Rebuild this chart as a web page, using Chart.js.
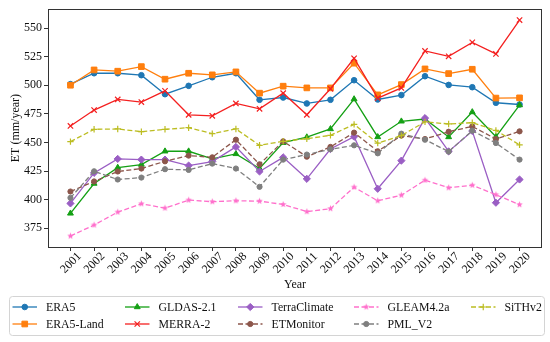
<!DOCTYPE html>
<html>
<head>
<meta charset="utf-8">
<script src="https://cdn.jsdelivr.net/npm/chart.js@4.4.1/dist/chart.umd.min.js"></script>
<style>
  html, body { margin: 0; padding: 0; background: #fff; }
  canvas { display: block; }
</style>
</head>
<body>
<canvas id="chart" width="550" height="342"></canvas>
<script>
// Datos (ET anual, mm/año)
const years = [2001, 2002, 2003, 2004, 2005, 2006, 2007, 2008, 2009, 2010,
               2011, 2012, 2013, 2014, 2015, 2016, 2017, 2018, 2019, 2020];

const era5         = [501, 510.5, 510.5, 508.8, 492.2, 499.5, 507, 510.5, 487.3, 489.3,
                      484.1, 487.3, 504.4, 487.6, 491.4, 507.9, 500.3, 498.3, 484.7, 483.2];
const era5Land     = [500, 513.4, 512.3, 516.3, 505.3, 510.5, 509.1, 511.7, 493.1, 499.2,
                      497.7, 497.7, 519.3, 491.6, 500.6, 514.3, 510.2, 514, 488.8, 489];
const gldas        = [388, 414.1, 428, 430.7, 442.3, 442.3, 435.6, 440, 427.2, 449.8,
                      454.6, 461.8, 487.9, 454.8, 468.5, 470.5, 454.8, 476.6, 455, 482.7];
const merra2       = [464.4, 478.3, 487.6, 485.3, 495.1, 474.2, 473.3, 484.1, 479.4, 493.1,
                      474.2, 496.9, 523.6, 488.8, 497.7, 530, 525.3, 537.5, 527.4, 557];
const terraClimate = [396.7, 423.4, 435.6, 435, 435, 429.8, 433.3, 446.1, 424.6, 437,
                      418.2, 444.3, 455, 409.5, 434.1, 471.3, 442.2, 460, 397.3, 417.6];
const etMonitor    = [407.1, 415.9, 424.6, 427.2, 433.5, 438.5, 437, 452.4, 430.9, 451,
                      437.6, 446.1, 458.6, 442.3, 456, 453, 459.4, 464, 453, 459.7];
const gleam        = [368.2, 377.8, 389.1, 396.4, 392.6, 399.6, 398.2, 399, 398.7, 395.8,
                      389.5, 392.1, 410.9, 399, 403.9, 417, 410.4, 412.6, 404.3, 395.6];
const pmlV2        = [401.6, 424.8, 417.6, 419.3, 426.6, 426, 431.5, 427.2, 411.2, 435,
                      439.4, 444, 447.5, 440.5, 457.7, 452.4, 442, 460.3, 449.5, 435];
const sithV2       = [450.7, 461.5, 461.8, 459.4, 461.5, 462.9, 457.7, 461.8, 447.5, 451,
                      453.3, 456.2, 465.8, 449.4, 456, 468, 466.2, 467.3, 460.5, 447.9];

const FONT = '"Liberation Serif", "Times New Roman", serif';

// Estrella rellena (marcador '*' de matplotlib)
function makeStar(color, r) {
    const c = document.createElement('canvas');
    const s = Math.ceil(r * 2 + 2);
    c.width = s;
    c.height = s;
    const g = c.getContext('2d');
    g.translate(s / 2, s / 2);
    g.beginPath();
    for (let i = 0; i < 10; i++) {
        const rad = i % 2 === 0 ? r : r * 0.45;
        const a = -Math.PI / 2 + i * Math.PI / 5;
        g.lineTo(Math.cos(a) * rad, Math.sin(a) * rad);
    }
    g.closePath();
    g.fillStyle = color;
    g.fill();
    return c;
}

// Series y su estilo
const series = [
    { label: 'ERA5',         values: era5,         color: '#1f77b4', marker: 'circle',   r: 2.8, dash: [] },
    { label: 'ERA5-Land',    values: era5Land,     color: '#ff7f0e', marker: 'rect',     r: 4,   dash: [] },
    { label: 'GLDAS-2.1',    values: gldas,        color: '#14a014', marker: 'triangle', r: 3.4, dash: [] },
    { label: 'MERRA-2',      values: merra2,       color: '#f42020', marker: 'crossRot', r: 3.8, dash: [] },
    { label: 'TerraClimate', values: terraClimate, color: '#9a5ec4', marker: 'rectRot',  r: 3.6, dash: [] },
    { label: 'ETMonitor',    values: etMonitor,    color: '#8c564b', marker: 'circle',   r: 2.6, dash: [5, 2.5] },
    { label: 'GLEAM4.2a',    values: gleam,        color: '#ff70cc', marker: makeStar('#ff70cc', 3.4), r: 3.4, dash: [5, 2.5] },
    { label: 'PML_V2',       values: pmlV2,        color: '#7f7f7f', marker: 'circle',   r: 2.6, dash: [5, 2.5] },
    { label: 'SiTHv2',       values: sithV2,       color: '#bcbd22', marker: 'cross',    r: 3.2, dash: [5, 2.5] }
];

function isStroked(marker) {
    return marker === 'cross' || marker === 'crossRot';
}

// Dibujo de marcador (para la leyenda)
function drawMarker(ctx, s, x, y) {
    ctx.save();
    ctx.setLineDash([]);
    ctx.fillStyle = s.color;
    ctx.strokeStyle = s.color;
    ctx.lineWidth = isStroked(s.marker) ? 1.2 : 1;
    if (Chart.helpers && Chart.helpers.drawPoint) {
        Chart.helpers.drawPoint(ctx, { pointStyle: s.marker, radius: s.r, rotation: 0, borderWidth: ctx.lineWidth }, x, y);
    } else {
        ctx.beginPath();
        ctx.arc(x, y, s.r, 0, Math.PI * 2);
        ctx.fill();
    }
    ctx.restore();
}

const decor = {
    id: 'decor',
    afterDatasetsDraw(chart) {
        const a = chart.chartArea;
        const ctx = chart.ctx;
        ctx.save();
        ctx.strokeStyle = '#333';
        ctx.lineWidth = 1;
        ctx.strokeRect(Math.round(a.left) + 0.5, Math.round(a.top) + 0.5,
                       Math.round(a.right - a.left) - 1, Math.round(a.bottom - a.top));
        ctx.restore();
    },
    afterDraw(chart) {
        const ctx = chart.ctx;
        const a = chart.chartArea;
        const xs = chart.scales.x;
        ctx.save();
        ctx.fillStyle = '#111';

        // Etiquetas de años rotadas 45°
        ctx.font = '12px ' + FONT;
        ctx.textAlign = 'center';
        ctx.textBaseline = 'middle';
        years.forEach(yr => {
            const px = xs.getPixelForValue(yr);
            ctx.save();
            ctx.translate(px + 0.5, a.bottom + 16);
            ctx.rotate(-Math.PI / 4);
            ctx.fillText(String(yr), 0, 0);
            ctx.restore();
        });

        // Títulos de ejes
        ctx.font = '12px ' + FONT;
        ctx.fillText('Year', (a.left + a.right) / 2, 284.5);
        ctx.save();
        ctx.translate(15.5, (a.top + a.bottom) / 2);
        ctx.rotate(-Math.PI / 2);
        ctx.fillText('ET (mm/year)', 0, 0);
        ctx.restore();

        // Leyenda (5 columnas x 2 filas, orden por columnas)
        const box = { x: 9, y: 296, w: 535, h: 39 };
        ctx.beginPath();
        if (ctx.roundRect) {
            ctx.roundRect(box.x + 0.5, box.y + 0.5, box.w, box.h, 3);
        } else {
            ctx.rect(box.x + 0.5, box.y + 0.5, box.w, box.h);
        }
        ctx.fillStyle = '#fff';
        ctx.fill();
        ctx.strokeStyle = '#d4d4d4';
        ctx.lineWidth = 1;
        ctx.stroke();

        const colX = [12.5, 125, 238, 354, 471];
        const rowY = [307, 324];
        ctx.font = '11.8px ' + FONT;
        ctx.textAlign = 'left';
        ctx.textBaseline = 'middle';
        series.forEach((s, i) => {
            const cx = colX[Math.floor(i / 2)];
            const cy = rowY[i % 2];
            ctx.save();
            ctx.strokeStyle = s.color;
            ctx.lineWidth = 1.3;
            ctx.setLineDash(s.dash);
            ctx.beginPath();
            ctx.moveTo(cx, cy);
            ctx.lineTo(cx + 24.5, cy);
            ctx.stroke();
            ctx.restore();
            drawMarker(ctx, s, cx + 12.25, cy);
            ctx.fillStyle = '#111';
            ctx.fillText(s.label, cx + 33.5, cy + 0.5);
        });
        ctx.restore();
    }
};

const chart = new Chart(document.getElementById('chart').getContext('2d'), {
    type: 'line',
    data: {
        datasets: series.map((s, i) => ({
            label: s.label,
            data: years.map((yr, k) => ({ x: yr, y: s.values[k] })),
            borderColor: s.color,
            backgroundColor: s.color,
            borderWidth: 1.3,
            borderDash: s.dash,
            pointStyle: s.marker,
            pointRadius: s.r,
            pointBackgroundColor: s.color,
            pointBorderColor: s.color,
            pointBorderWidth: isStroked(s.marker) ? 1.2 : 1,
            tension: 0,
            fill: false,
            order: series.length - i
        }))
    },
    options: {
        responsive: false,
        animation: false,
        devicePixelRatio: 1,
        layout: { padding: { left: 0, right: 8, top: 9, bottom: 0 } },
        plugins: {
            legend: { display: false },
            tooltip: { enabled: false }
        },
        scales: {
            x: {
                type: 'linear',
                min: 2000.05,
                max: 2020.95,
                ticks: { display: false, stepSize: 1, includeBounds: false },
                grid: { drawOnChartArea: false, drawTicks: true, tickLength: 4, color: '#333' },
                border: { display: false },
                afterFit: (scale) => { scale.height = 95; }
            },
            y: {
                min: 358.6,
                max: 566.5,
                ticks: {
                    stepSize: 25,
                    includeBounds: false,
                    padding: 2,
                    color: '#111',
                    font: { family: FONT, size: 12 }
                },
                grid: { drawOnChartArea: false, drawTicks: true, tickLength: 4, color: '#333' },
                border: { display: false },
                afterFit: (scale) => { scale.width = 48; }
            }
        }
    },
    plugins: [decor]
});
</script>
</body>
</html>
